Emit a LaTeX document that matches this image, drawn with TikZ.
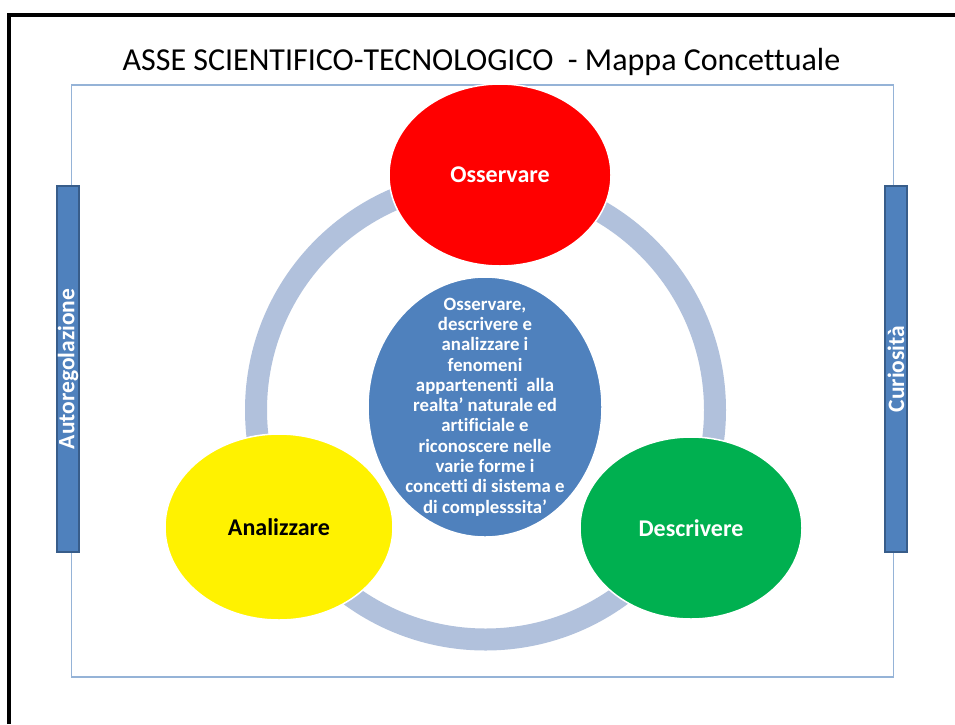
\documentclass[tikz,border=0pt]{standalone}
\usepackage{fontspec}
\setmainfont{Carlito}[Ligatures={NoCommon}]
\usetikzlibrary{shapes.geometric, positioning}

\definecolor{ringblue}{RGB}{177,193,220}
\definecolor{barblue}{RGB}{79,129,189}
\definecolor{bardark}{RGB}{56,93,138}
\definecolor{frameblue}{RGB}{149,179,215}
\definecolor{leafgreen}{RGB}{0,176,80}

\begin{document}
\begin{tikzpicture}[
x=1pt, y=-1pt,
bubble/.style={ellipse, draw=white, line width=1.5pt, minimum width=222, minimum height=182, inner sep=0pt, font=\fontsize{24}{28}\selectfont\bfseries},
core/.style={ellipse, draw=white, line width=1.5pt, fill=barblue, minimum width=234, minimum height=260, inner sep=0pt},
coretext/.style={text=white, align=center, inner sep=0pt, font=\fontsize{18.8}{20.3}\selectfont\bfseries},
sidebar/.style={rectangle, draw=bardark, fill=barblue, line width=2pt, minimum width=366, minimum height=22, inner sep=0pt, rotate=90, text=white, font=\fontsize{23.5}{26}\selectfont\bfseries},
cycle/.style={circle, draw=ringblue, line width=22pt, minimum size=459, inner sep=0pt}
]
\useasboundingbox (0,0) rectangle (955,724);
\fill[white] (0,0) rectangle (955,724);

%Frame
\draw[line width=4pt] (9,724) -- (9,14.5) -- (955,14.5);
\draw[frameblue, line width=1.5pt] (71.5,85) rectangle (893.5,677);
\node[anchor=base, font=\fontsize{32}{36}\selectfont] (title) at (481.5,70) {ASSE SCIENTIFICO-TECNOLOGICO~ - Mappa Concettuale};

%Nodes
\node[cycle] (ring) at (485.5,410) {};
\node[bubble, fill=red, text=white]        (obs) at (500,175) {Osservare};
\node[bubble, fill=yellow, text=black, minimum width=228, minimum height=186] (ana) at (279,527) {Analizzare};
\node[bubble, fill=leafgreen, text=white] (des) at (691,528) {Descrivere};
\node[core] (aim) at (485,407) {};
\node[coretext] (aimtext) at (aim) {Osservare,\\ descrivere e\\ analizzare i\\ fenomeni\\ appartenenti~ alla\\ realta’ naturale ed\\ artificiale e\\ riconoscere nelle\\ varie forme i\\ concetti di sistema e\\ di complesssita’};

\node[sidebar] (auto) at (68,369) {Autoregolazione};
\node[sidebar] (cur)  at (896,369) {Curiosità};
\end{tikzpicture}
\end{document}
